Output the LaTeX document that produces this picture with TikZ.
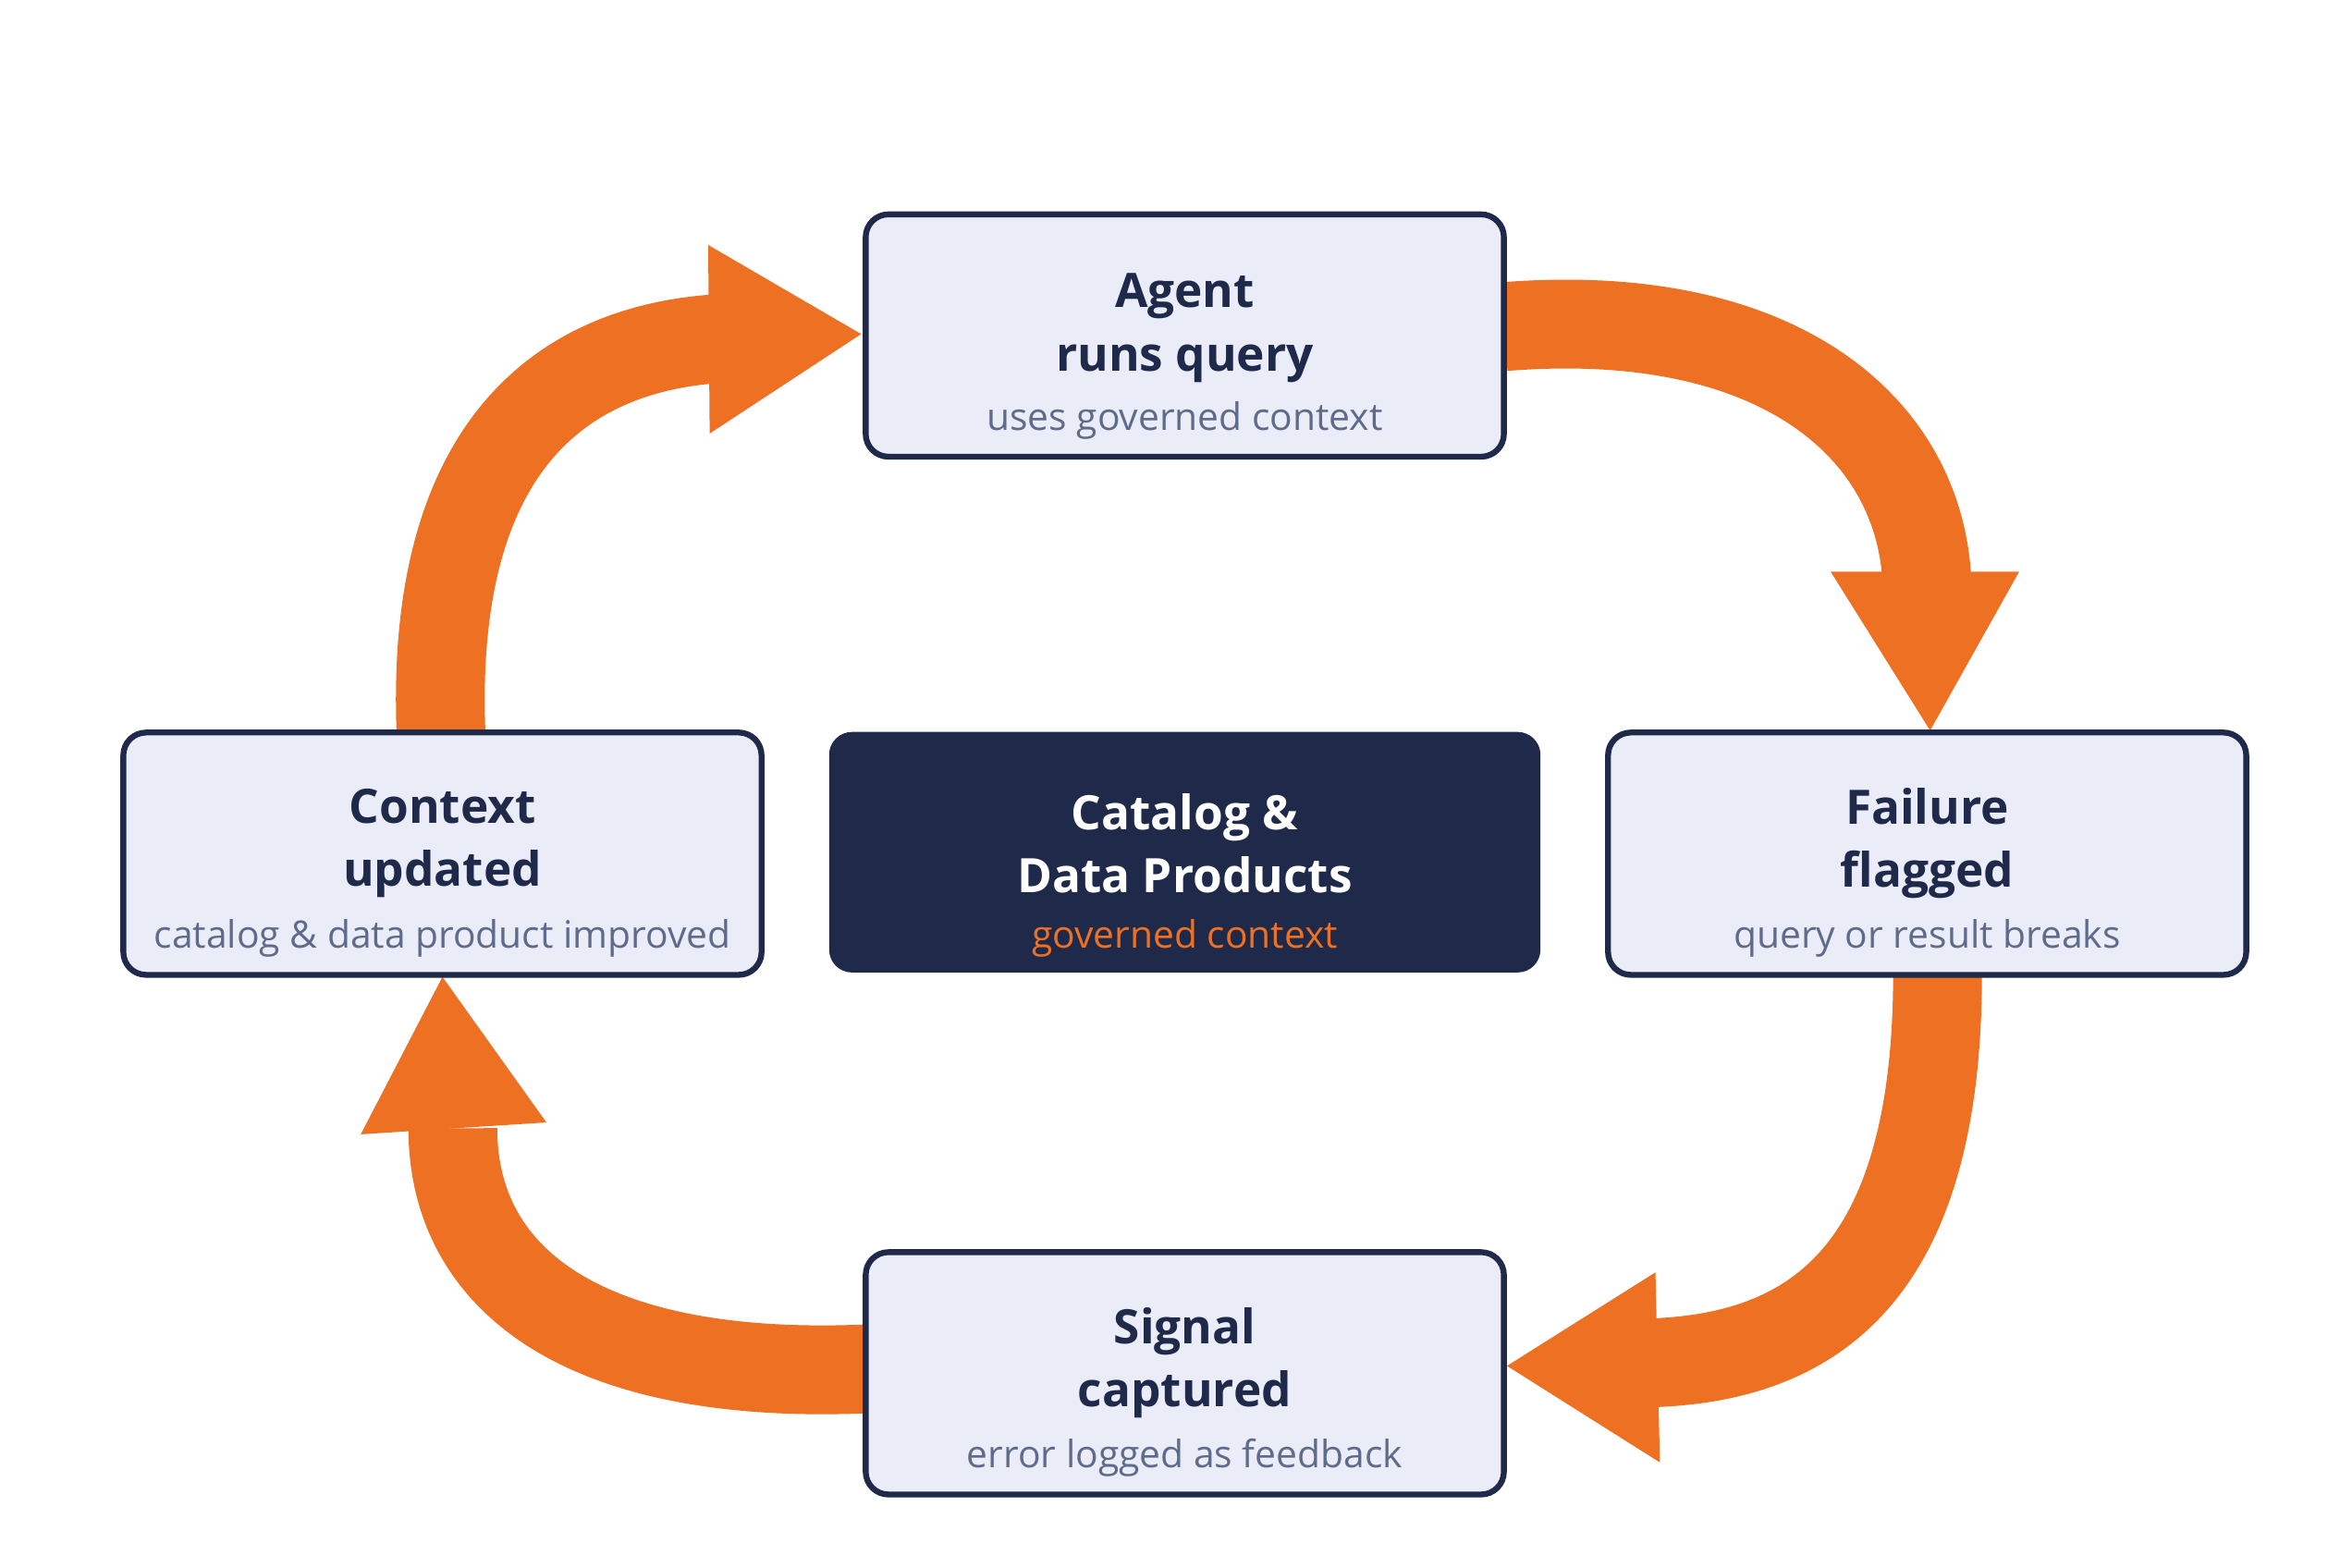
\documentclass[tikz,border=0pt]{standalone}
\usepackage{fontspec}
\setmainfont{Open Sans}
\definecolor{navy}{HTML}{1F2A4A}
\definecolor{boxfill}{HTML}{EAEDF8}
\definecolor{orng}{HTML}{EE7023}
\definecolor{subg}{HTML}{5F6B8A}
\begin{document}
\begin{tikzpicture}[x=0.016059cm,y=-0.016059cm,
  card/.style={draw=navy,line width=1.8pt,fill=boxfill,rounded corners=7pt,minimum width=6.9cm,minimum height=2.62cm,inner sep=0pt},
  dark/.style={fill=navy,rounded corners=7pt,minimum width=7.69cm,minimum height=2.6cm,inner sep=0pt},
  ttl/.style={font=\fontsize{14.6}{19.5}\selectfont\bfseries,text=navy,align=center},
  sub/.style={font=\fontsize{11.6}{14}\selectfont,text=subg},
  flow/.style={draw=orng,line width=0.96cm},
  head/.style={fill=orng}]
\useasboundingbox (0,0) rectangle (1568,1056);
\fill[white] (0,0) rectangle (1568,1056);
\coordinate (aE) at (1013,220);
\coordinate (fS) at (1305,656);
\coordinate (sW) at (583,922);
\coordinate (cN) at (297,493);
\draw[flow] (aE) .. controls (1200,205) and (1295,290) .. (1298,395);
\fill[head] (1300,492) -- (1233,385) -- (1360,385) -- cycle;
\draw[flow] (fS) .. controls (1305,860) and (1220,915) .. (1110,918);
\fill[head] (1015,920) -- (1115,857) -- (1118,985) -- cycle;
\draw[flow] (sW) .. controls (390,930) and (305,860) .. (305,760);
\fill[head] (298,658) -- (243,764) -- (368,756) -- cycle;
\draw[flow] (cN) .. controls (290,310) and (370,235) .. (485,228);
\fill[head] (580,225) -- (477,165) -- (478,292) -- cycle;
\node[card] (agent) at (798,226) {};
\node[card] (context) at (298,575) {};
\node[dark] (center) at (798,574) {};
\node[card] (failure) at (1298,575) {};
\node[card] (signal) at (798,925) {};
\node[ttl] (t1) at (798,221) {Agent\\runs query};
\node[sub] (s1) at (798,283) {uses governed context};
\node[ttl] (t2) at (298,568) {Context\\updated};
\node[sub] (s2) at (298,632) {catalog \& data product improved};
\node[ttl,text=white] (t3) at (798,568) {Catalog \&\\Data Products};
\node[sub,text=orng] (s3) at (798,632) {governed context};
\node[ttl] (t4) at (1298,568) {Failure\\flagged};
\node[sub] (s4) at (1298,632) {query or result breaks};
\node[ttl] (t5) at (798,918) {Signal\\captured};
\node[sub] (s5) at (798,982) {error logged as feedback};
\end{tikzpicture}
\end{document}
